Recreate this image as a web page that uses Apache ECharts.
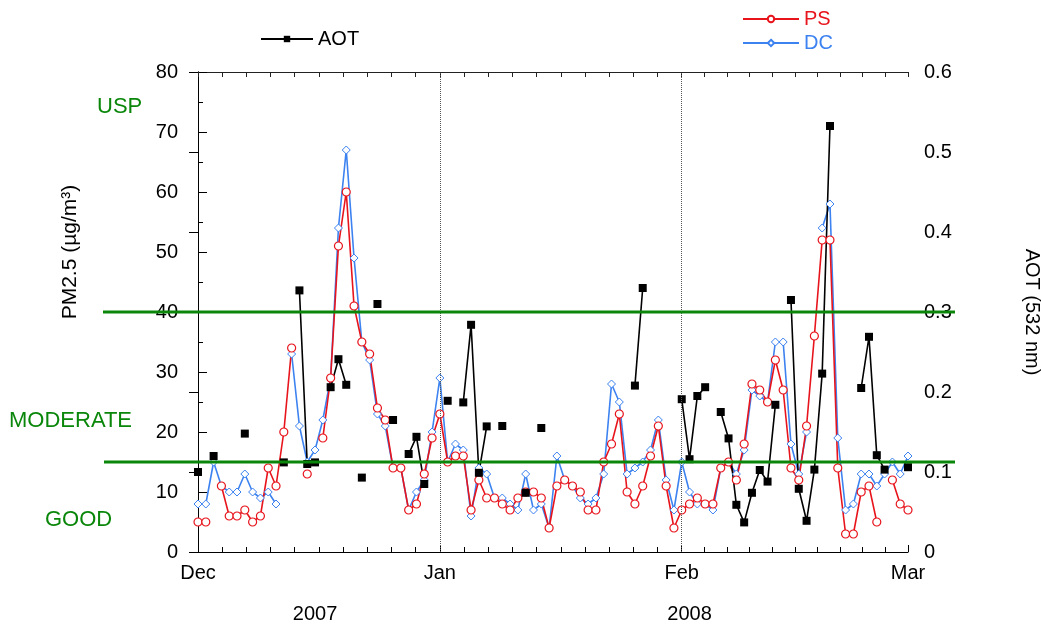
<!DOCTYPE html>
<html>
<head>
<meta charset="utf-8">
<script src="https://cdn.jsdelivr.net/npm/echarts@6/dist/echarts.min.js"></script>
<style>
  html, body { margin: 0; padding: 0; background: #fff; }
  #chart { width: 1041px; height: 632px; }
</style>
</head>
<body>
<div id="chart"></div>
<script>
// Day index 0 = 1 Dec 2007, 91 = 1 Mar 2008
const monthStarts = [0, 31, 62, 91];
const monthLabels = ['Dec', 'Jan', 'Feb', 'Mar'];
const yearLabelDays = [15, 63];
const yearLabels = ['2007', '2008'];

// Daily PM2.5 (µg/m³), null = no sample
const psValues = [
  5, 5, null, 11, 6, 6, 7, 5, 6, 14,
  11, 20, 34, null, 13, null, 19, 29, 51, 60,
  41, 35, 33, 24, 22, 14, 14, 7, 8, 13,
  19, 23, 15, 16, 16, 7, 12, 9, 9, 8,
  7, 9, 10, 10, 9, 4, 11, 12, 11, 10,
  7, 7, 15, 18, 23, 10, 8, 11, 16, 21,
  11, 4, 7, 8, 9, 8, 8, 14, 15, 12,
  18, 28, 27, 25, 32, 27, 14, 12, 21, 36,
  52, 52, 14, 3, 3, 10, 11, 5, null, 12,
  8, 7
];
const dcValues = [
  8, 8, 15, 11, 10, 10, 13, 10, 9, 10,
  8, null, 33, 21, 15, 17, 22, 29, 54, 67,
  49, 35, 32, 23, 21, 14, 14, 7, 10, 12,
  20, 29, 15, 18, 17, 6, 14, 13, 9, 9,
  8, 7, 13, 7, 8, 4, 16, 12, 11, 9,
  8, 9, 13, 28, 25, 13, 14, 15, 17, 22,
  12, 7, 15, 10, 8, 8, 7, 14, 15, 13,
  17, 27, 26, 25, 35, 35, 18, 13, 20, null,
  54, 58, 19, 7, 8, 13, 13, 11, 13, 15,
  13, 16
];
// Daily aerosol optical thickness at 532 nm
const aotValues = [
  0.10, null, 0.12, null, null, null, 0.148, null, null, null,
  null, 0.112, null, 0.327, 0.110, 0.112, null, 0.206, 0.241, 0.209,
  null, 0.093, null, 0.310, null, 0.165, null, 0.1225, 0.144, 0.085,
  null, null, 0.189, null, 0.187, 0.284, 0.099, 0.157, null, 0.1575,
  null, null, 0.074, null, 0.155, null, null, null, null, null,
  null, null, null, null, null, null, 0.208, 0.330, null, null,
  null, null, 0.191, 0.116, 0.195, 0.206, null, 0.175, 0.142, 0.059,
  0.037, 0.074, 0.1025, 0.088, 0.184, null, 0.315, 0.079, 0.039, 0.103,
  0.223, 0.5325, null, null, null, 0.205, 0.269, 0.121, 0.103, null,
  null, 0.106
];

// Air-quality category boundaries (µg/m³)
const uspLevel = 40;
const moderateLevel = 15;

const FONT = "'Liberation Sans', Arial, sans-serif";
const RED = '#e8141c';
const BLUE = '#3c82f0';
const GREEN = '#0a870a';

const toPairs = vals => vals.map((v, i) => [i, v == null ? '-' : v]);

// ten minor divisions inside every month
const minorTicks = [];
for (let m = 0; m < monthStarts.length - 1; m++) {
  const s = monthStarts[m], len = monthStarts[m + 1] - s;
  for (let k = 0; k < 10; k++) minorTicks.push(s + k * len / 10);
}
minorTicks.push(monthStarts[monthStarts.length - 1]);

const chart = echarts.init(document.getElementById('chart'), null, { renderer: 'canvas' });

const baseX = { type: 'value', min: 0, max: 91, splitLine: { show: false } };

chart.setOption({
  animation: false,
  backgroundColor: '#fff',
  textStyle: { fontFamily: FONT },
  grid: { left: 198, right: 133, top: 72, bottom: 80, containLabel: false, outerBoundsMode: 'none' },
  legend: [
    {
      data: ['AOT'], left: 255, top: 24, itemWidth: 52, itemHeight: 8,
      textStyle: { fontSize: 20, color: '#000', fontFamily: FONT },
      selectedMode: false
    },
    {
      data: [
        { name: 'PS', textStyle: { color: RED } },
        { name: 'DC', textStyle: { color: BLUE } }
      ],
      orient: 'vertical', left: 737, top: 4, itemWidth: 56, itemHeight: 8, itemGap: 4,
      textStyle: { fontSize: 20, fontFamily: FONT },
      selectedMode: false
    }
  ],
  xAxis: [
    Object.assign({}, baseX, {
      position: 'bottom',
      axisLine: { show: true, lineStyle: { color: '#000', width: 1 } },
      axisTick: { show: true, inside: true, length: 7, customValues: monthStarts, lineStyle: { color: '#000' } },
      axisLabel: {
        customValues: monthStarts,
        formatter: v => monthLabels[monthStarts.indexOf(v)],
        margin: 11, fontSize: 20, color: '#000', fontFamily: FONT
      }
    }),
    Object.assign({}, baseX, {
      position: 'bottom',
      axisLine: { show: false },
      axisTick: { show: true, inside: true, length: 5, customValues: minorTicks, lineStyle: { color: '#000' } },
      axisLabel: { show: false }
    }),
    Object.assign({}, baseX, {
      position: 'top',
      axisLine: { show: true, lineStyle: { color: '#222', width: 1 } },
      axisTick: { show: true, inside: true, length: 5, customValues: minorTicks, lineStyle: { color: '#222' } },
      axisLabel: { show: false }
    }),
    Object.assign({}, baseX, {
      position: 'bottom',
      axisLine: { show: false },
      axisTick: { show: false },
      axisLabel: {
        customValues: yearLabelDays,
        formatter: v => yearLabels[yearLabelDays.indexOf(v)],
        margin: 52, fontSize: 20, color: '#000', fontFamily: FONT
      }
    })
  ],
  yAxis: [
    {
      type: 'value', min: 0, max: 80, interval: 10, position: 'left',
      axisLine: { show: true, lineStyle: { color: '#000' } },
      axisTick: { show: true, inside: true, length: 9, lineStyle: { color: '#000' } },
      axisLabel: { margin: 20, fontSize: 20, color: '#000', fontFamily: FONT },
      splitLine: { show: false }
    },
    {
      type: 'value', min: 0, max: 0.6, interval: 0.1, position: 'right',
      axisLine: { show: true, lineStyle: { color: '#000' } },
      axisTick: { show: true, inside: true, length: 9, lineStyle: { color: '#000' } },
      axisLabel: { margin: 16, fontSize: 20, color: '#000', fontFamily: FONT },
      splitLine: { show: false },
      name: 'AOT (532 nm)', nameLocation: 'middle', nameRotate: -90, nameGap: 114,
      nameTextStyle: { fontSize: 20, color: '#000', fontFamily: FONT }
    }
  ],
  series: [
    {
      name: 'DC', type: 'line', xAxisIndex: 0, yAxisIndex: 0,
      data: toPairs(dcValues),
      symbol: 'diamond', symbolSize: 8, showAllSymbol: true,
      lineStyle: { color: BLUE, width: 1.6 },
      itemStyle: { color: '#fff', borderColor: BLUE, borderWidth: 1 },
      emphasis: { disabled: true },
      markLine: {
        silent: true, symbol: 'none', label: { show: false },
        lineStyle: { type: 'dotted', color: '#555', width: 1 },
        data: [{ xAxis: monthStarts[1] }, { xAxis: monthStarts[2] }]
      }
    },
    {
      name: 'PS', type: 'line', xAxisIndex: 0, yAxisIndex: 0,
      data: toPairs(psValues),
      symbol: 'circle', symbolSize: 8, showAllSymbol: true,
      lineStyle: { color: RED, width: 1.6 },
      itemStyle: { color: '#fff', borderColor: RED, borderWidth: 1.2 },
      emphasis: { disabled: true }
    },
    {
      name: 'AOT', type: 'line', xAxisIndex: 0, yAxisIndex: 1,
      data: toPairs(aotValues),
      symbol: 'rect', symbolSize: 8, showAllSymbol: true,
      lineStyle: { color: '#000', width: 1.6 },
      itemStyle: { color: '#000' },
      emphasis: { disabled: true }
    }
  ]
});

// Category boundary lines and labels, placed on the PM2.5 scale
const yUsp = chart.convertToPixel({ yAxisIndex: 0 }, uspLevel);
const yMod = chart.convertToPixel({ yAxisIndex: 0 }, moderateLevel);
const xLeft = chart.convertToPixel({ xAxisIndex: 0 }, 0);

// short inward half-step ticks on the PM2.5 axis
const halfTicks = [];
for (let v = 5; v < 80; v += 10) {
  const y = Math.round(chart.convertToPixel({ yAxisIndex: 0 }, v)) + 0.5;
  halfTicks.push({
    type: 'line', shape: { x1: xLeft, y1: y, x2: xLeft + 5, y2: y },
    style: { stroke: '#000', lineWidth: 1 }, silent: true
  });
}

const greenText = (text, x, y) => ({
  type: 'text', left: x, top: y,
  style: { text, fill: GREEN, fontSize: 22, fontFamily: FONT, textAlign: 'left', textVerticalAlign: 'top' },
  silent: true
});
chart.setOption({
  graphic: halfTicks.concat([
    { type: 'line', shape: { x1: 103, y1: yUsp, x2: 955, y2: yUsp }, style: { stroke: GREEN, lineWidth: 3 }, silent: true, z: 10 },
    { type: 'line', shape: { x1: 104, y1: yMod, x2: 955, y2: yMod }, style: { stroke: GREEN, lineWidth: 3 }, silent: true, z: 10 },
    greenText('USP', 97, 96),
    greenText('MODERATE', 9, 410),
    greenText('GOOD', 45, 509),
    {
      type: 'text', x: 70, y: 252, rotation: Math.PI / 2,
      style: { text: 'PM2.5 (µg/m³)', fill: '#000', fontSize: 21, fontFamily: FONT, align: 'center', verticalAlign: 'middle' },
      silent: true
    }
  ])
});
</script>
</body>
</html>
